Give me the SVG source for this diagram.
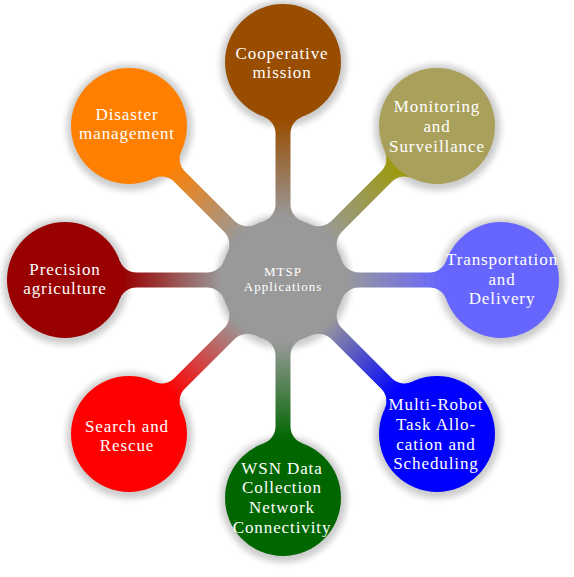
<svg xmlns="http://www.w3.org/2000/svg" width="574" height="577" viewBox="0 0 574 577">
<defs>
<filter id="sh" x="-30%" y="-30%" width="160%" height="160%"><feGaussianBlur stdDeviation="3"/></filter>
<linearGradient id="gCoop" gradientUnits="userSpaceOnUse" x1="62" y1="0" x2="160" y2="0"><stop offset="0" stop-color="#999999"/><stop offset="1" stop-color="#994d00"/></linearGradient>
<linearGradient id="gMon" gradientUnits="userSpaceOnUse" x1="62" y1="0" x2="160" y2="0"><stop offset="0" stop-color="#999999"/><stop offset="1" stop-color="#9d9a10"/></linearGradient>
<linearGradient id="gTra" gradientUnits="userSpaceOnUse" x1="62" y1="0" x2="160" y2="0"><stop offset="0" stop-color="#999999"/><stop offset="1" stop-color="#6666ff"/></linearGradient>
<linearGradient id="gMul" gradientUnits="userSpaceOnUse" x1="62" y1="0" x2="160" y2="0"><stop offset="0" stop-color="#999999"/><stop offset="1" stop-color="#0000ff"/></linearGradient>
<linearGradient id="gWsn" gradientUnits="userSpaceOnUse" x1="62" y1="0" x2="160" y2="0"><stop offset="0" stop-color="#999999"/><stop offset="1" stop-color="#006600"/></linearGradient>
<linearGradient id="gSea" gradientUnits="userSpaceOnUse" x1="62" y1="0" x2="160" y2="0"><stop offset="0" stop-color="#999999"/><stop offset="1" stop-color="#ff0000"/></linearGradient>
<linearGradient id="gPre" gradientUnits="userSpaceOnUse" x1="62" y1="0" x2="160" y2="0"><stop offset="0" stop-color="#999999"/><stop offset="1" stop-color="#990000"/></linearGradient>
<linearGradient id="gDis" gradientUnits="userSpaceOnUse" x1="62" y1="0" x2="160" y2="0"><stop offset="0" stop-color="#999999"/><stop offset="1" stop-color="#ff8000"/></linearGradient>
<path id="bar" d="M 58.77,-19.76 A 18 18 0 0 0 75.83,-7.5 L 146.4,-7.5 A 18 18 0 0 0 163.36,-19.46 L 163.36,19.46 A 18 18 0 0 0 146.4,7.5 L 75.83,7.5 A 18 18 0 0 0 58.77,19.76 Z"/>
</defs>
<style>
.shadow{fill:#000;opacity:0.2;filter:url(#sh)}
.t{font-family:"Liberation Serif","Times New Roman",serif;font-size:17px;letter-spacing:0.9px;fill:#fff;text-anchor:middle}
.tc{font-size:13px;letter-spacing:1px}
</style>
<g id="shadows">
<circle class="shadow" cx="283.5" cy="281.5" r="67"/>
<circle class="shadow" cx="283.5" cy="63.5" r="63"/>
<circle class="shadow" cx="437.5" cy="127.5" r="63"/>
<circle class="shadow" cx="501.5" cy="281.5" r="63"/>
<circle class="shadow" cx="437.5" cy="435.5" r="63"/>
<circle class="shadow" cx="283.5" cy="499.5" r="63"/>
<circle class="shadow" cx="129.5" cy="435.5" r="63"/>
<circle class="shadow" cx="65.5" cy="281.5" r="63"/>
<circle class="shadow" cx="129.5" cy="127.5" r="63"/>
</g>
<g id="connectors">
<use href="#bar" fill="url(#gCoop)" transform="translate(283,280) rotate(-90)"/>
<use href="#bar" fill="url(#gMon)" transform="translate(283,280) rotate(-45)"/>
<use href="#bar" fill="url(#gTra)" transform="translate(283,280)"/>
<use href="#bar" fill="url(#gMul)" transform="translate(283,280) rotate(45)"/>
<use href="#bar" fill="url(#gWsn)" transform="translate(283,280) rotate(90)"/>
<use href="#bar" fill="url(#gSea)" transform="translate(283,280) rotate(135)"/>
<use href="#bar" fill="url(#gPre)" transform="translate(283,280) rotate(180)"/>
<use href="#bar" fill="url(#gDis)" transform="translate(283,280) rotate(225)"/>
</g>
<g id="center">
<circle cx="283" cy="280" r="62" fill="#999999"/>
<text class="t tc" x="283" y="275.5">MTSP</text>
<text class="t tc" x="283" y="290.5">Applications</text>
</g>
<g id="cooperative">
<circle cx="283" cy="62" r="58" fill="#994d00"/>
<text class="t" x="282" y="59">Cooperative</text>
<text class="t" x="282" y="78">mission</text>
</g>
<g id="monitoring">
<circle cx="437" cy="126" r="58" fill="#a9a15b"/>
<text class="t" x="437" y="112">Monitoring</text>
<text class="t" x="437" y="132">and</text>
<text class="t" x="437" y="151.5">Surveillance</text>
</g>
<g id="transportation">
<circle cx="501" cy="280" r="58" fill="#6666ff"/>
<text class="t" x="502" y="265">Transportation</text>
<text class="t" x="502" y="284.5">and</text>
<text class="t" x="502" y="304">Delivery</text>
</g>
<g id="multirobot">
<circle cx="437" cy="434" r="58" fill="#0000ff"/>
<text class="t" x="436" y="410">Multi-Robot</text>
<text class="t" x="436" y="430">Task Allo-</text>
<text class="t" x="436" y="449.5">cation and</text>
<text class="t" x="436" y="469">Scheduling</text>
</g>
<g id="wsn">
<circle cx="283" cy="498" r="58" fill="#006600"/>
<text class="t" x="282" y="473.5">WSN Data</text>
<text class="t" x="282" y="493">Collection</text>
<text class="t" x="282" y="513">Network</text>
<text class="t" x="282" y="532.5">Connectivity</text>
</g>
<g id="search">
<circle cx="129" cy="434" r="58" fill="#ff0000"/>
<text class="t" x="127" y="431.5">Search and</text>
<text class="t" x="127" y="451">Rescue</text>
</g>
<g id="precision">
<circle cx="65" cy="280" r="58" fill="#990000"/>
<text class="t" x="65" y="275">Precision</text>
<text class="t" x="65" y="293.5">agriculture</text>
</g>
<g id="disaster">
<circle cx="129" cy="126" r="58" fill="#ff8000"/>
<text class="t" x="127" y="120">Disaster</text>
<text class="t" x="127" y="138.5">management</text>
</g>
</svg>
